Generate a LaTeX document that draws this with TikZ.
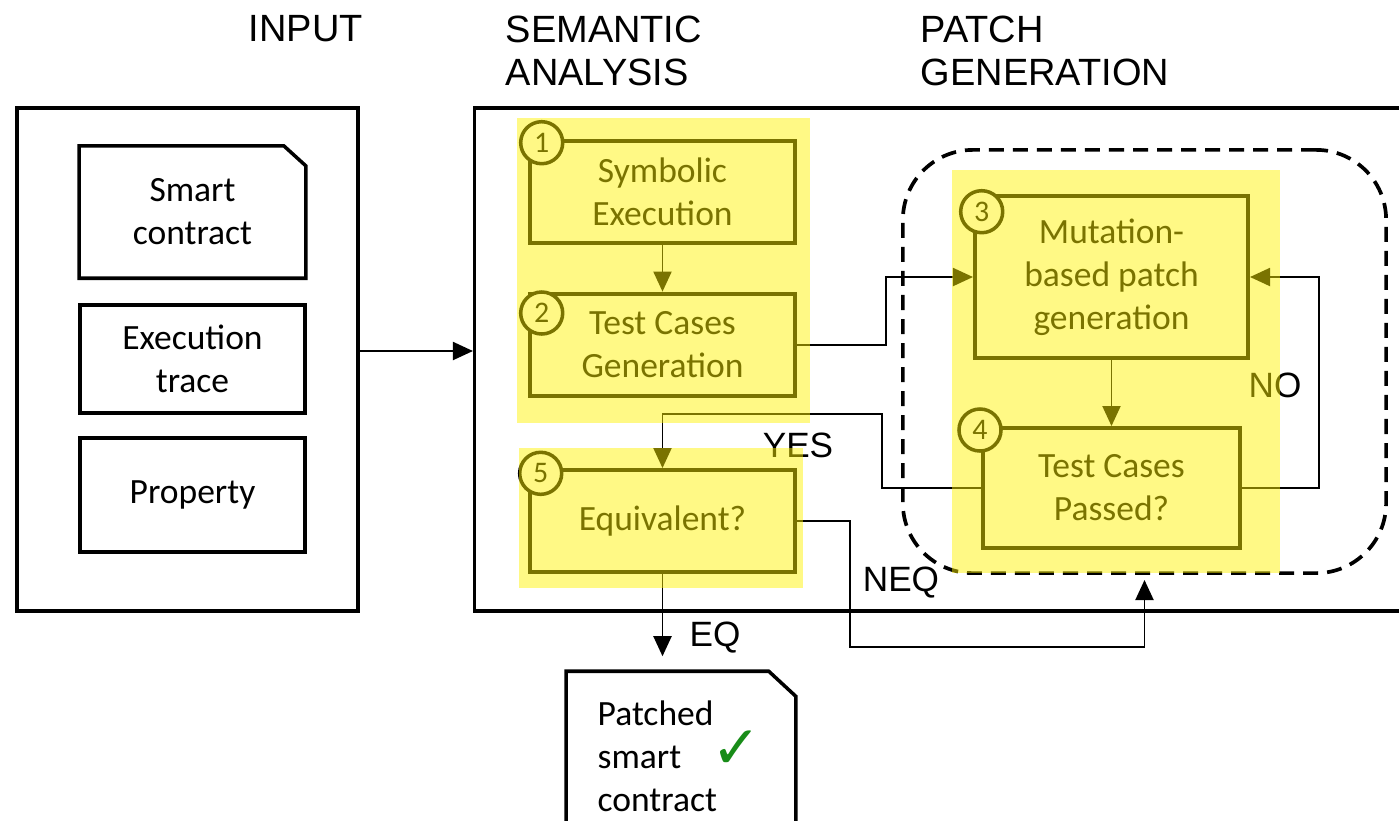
\documentclass[tikz,border=0pt]{standalone}
\usepackage{fontspec}
\setmainfont{Carlito}
\newfontfamily\headfont{Liberation Sans}
\newfontfamily\symfont{DejaVu Sans}
\usetikzlibrary{arrows.meta,positioning}
\definecolor{tickgreen}{RGB}{24,140,24}

\begin{document}
\begin{tikzpicture}[x=0.01cm,y=-0.01cm,node distance=1.525cm]
  \tikzstyle{container} = [rectangle, draw, line width=1pt]
  \tikzstyle{box} = [rectangle, draw, line width=1.1pt, align=center, inner sep=0pt, font=\fontsize{10.1}{12.2}\selectfont]
  \tikzstyle{paper} = [rectangle, inner sep=0pt]
  \tikzstyle{paperline} = [line width=1pt]
  \tikzstyle{badge} = [circle, draw, fill=white, line width=1pt, minimum size=0.42cm, inner sep=0pt, font=\fontsize{8.5}{9}\selectfont]
  \tikzstyle{loop} = [rectangle, draw, dash pattern=on 0.15cm off 0.09cm, line width=1.05pt, rounded corners=0.7cm]
  \tikzstyle{link} = [line width=0.55pt, -{Triangle[length=0.2cm,width=0.18cm]}]
  \tikzstyle{heading} = [anchor=north west, align=left, inner sep=0pt, font=\headfont\fontsize{10.8}{12.3}\selectfont]
  \tikzstyle{tag} = [inner sep=0pt, font=\headfont\fontsize{10}{12}\selectfont]
  \tikzstyle{hilite} = [fill=yellow, fill opacity=0.48]

  \useasboundingbox (0,0) rectangle (1399,820);
  \clip (0,0) rectangle (1399,820);

  % column titles
  \node (tinput) [heading] at (248,15) {INPUT};
  \node (tsem) [heading] at (505,15) {SEMANTIC\\ANALYSIS};
  \node (tpatch) [heading] at (920,15) {PATCH\\GENERATION};

  % input side
  \node (inbox) [container, minimum width=3.41cm, minimum height=5.03cm] at (187.5,359.5) {};
  \node (contract) [paper, minimum width=2.25cm, minimum height=1.31cm, align=center, font=\fontsize{10.1}{12.2}\selectfont] at (192.5,212) {Smart\\contract};
  \draw [paperline] (contract.south west) |- ([xshift=-0.22cm]contract.north east) -- ([yshift=-0.2cm]contract.north east) -- (contract.south east) -- cycle;
  \node (trace) [box, line width=1pt, minimum width=2.25cm, minimum height=1.08cm] at (192.5,359) {Execution\\trace};
  \node (prop) [box, line width=1pt, minimum width=2.25cm, minimum height=1.14cm] at (192.5,495) {Property};

  % repair engine
  \node (core) [container, minimum width=9.6cm, minimum height=5.03cm] at (955,359.5) {};
  \node (patchloop) [loop, minimum width=4.83cm, minimum height=4.23cm] at (1144.5,361.5) {};

  \node (symb) [box, minimum width=2.65cm, minimum height=1.02cm] at (662.5,192) {Symbolic\\Execution};
  \node (gen) [box, minimum width=2.65cm, minimum height=1.02cm, below of=symb] {Test Cases\\Generation};
  \node (equiv) [box, minimum width=2.65cm, minimum height=1.02cm] at (662.5,521) {Equivalent?};
  \node (mut) [box, minimum width=2.73cm, minimum height=1.62cm] at (1111.5,277) {Mutation-\\based patch\\generation};
  \node (pass) [box, minimum width=2.57cm, minimum height=1.20cm] at (1111.5,488) {Test Cases\\Passed?};

  % output
  \node (patched) [paper, minimum width=2.28cm, minimum height=2.1cm] at (681,777) {};
  \draw [paperline] (patched.south west) |- ([xshift=-0.27cm]patched.north east) -- ([yshift=-0.25cm]patched.north east) -- (patched.south east);
  \node (patchedtxt) [anchor=west, align=left, inner sep=0pt, font=\fontsize{10.1}{12.2}\selectfont] at (597,756) {Patched\\smart\\contract};
  \node (tick) [inner sep=0pt, text=tickgreen, font=\symfont\fontsize{17}{17}\selectfont] at (737,750) {✓};

  % connectors
  \draw [link] ([yshift=0.085cm]inbox.east) -- ([yshift=0.085cm]inbox.east -| core.west);
  \draw [link] (symb) -- (gen);
  \draw [link] (gen.east) -- ++(89,0) |- (mut.west);
  \draw [link] (mut) -- (pass);
  \draw [link] (pass.west) -- ++(-99,0) |- ([yshift=0.54cm]equiv.north) -- (equiv.north);
  \draw [link] (pass.east) -- ++(77,0) |- (mut.east);
  \draw [link, shorten >=0.15cm] (equiv.south) -- (equiv.south |- patched.north);
  \draw [link, shorten >=0.05cm] (equiv.east) -- ++(53,0) |- ([yshift=-0.72cm]patchloop.south) -- (patchloop.south);

  \node (yes) [tag] at (798,445) {YES};
  \node (no) [tag] at (1275,385) {NO};
  \node (eq) [tag] at (715,638) {EQ};
  \node (neq) [tag] at (901,583) {NEQ};

  % step numbers
  \node (n1) [badge] at (541.7,142.7) {1};
  \node (n2) [badge] at (541.7,313) {2};
  \node (n3) [badge] at (981.7,211.7) {3};
  \node (n4) [badge] at (980,430) {4};
  \node (n5) [badge] at (540.7,473.3) {5};

  % highlighter marks
  \fill [hilite] (517,118) rectangle (810,423);
  \fill [hilite] (952,170) rectangle (1280,573);
  \fill [hilite] (519,448) rectangle (803,588);
\end{tikzpicture}
\end{document}
